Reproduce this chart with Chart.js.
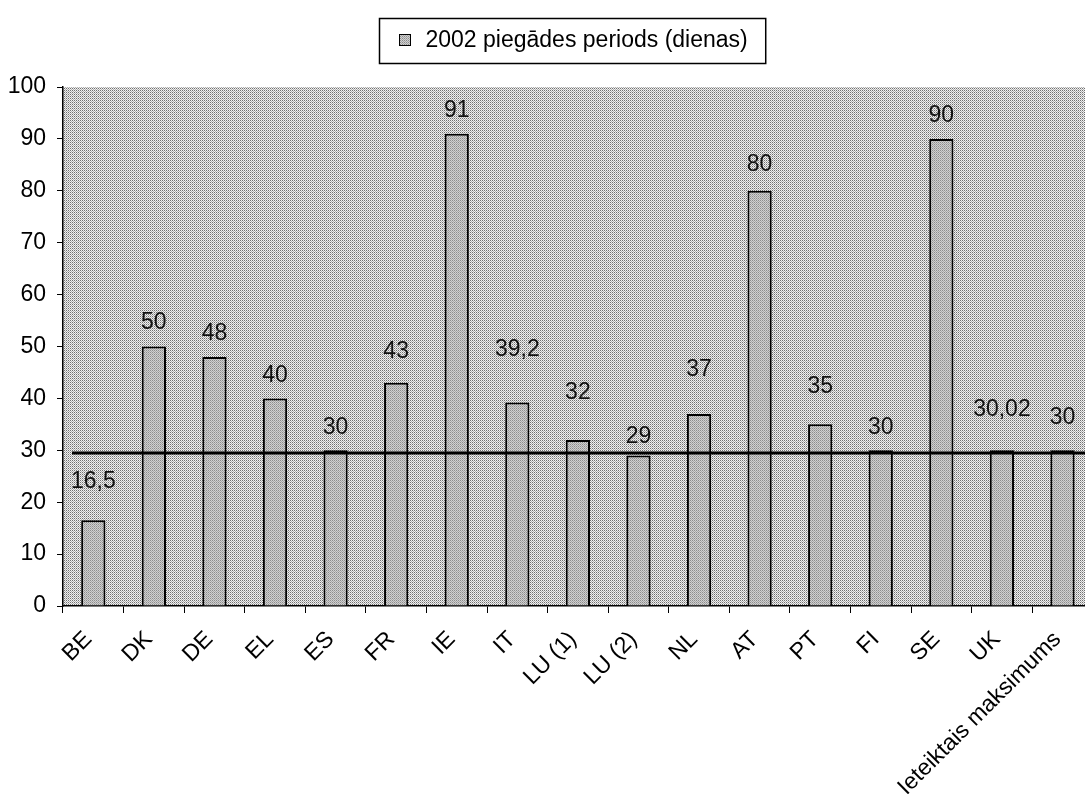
<!DOCTYPE html>
<html>
<head>
<meta charset="utf-8">
<script src="https://cdn.jsdelivr.net/npm/chart.js@4/dist/chart.umd.min.js"></script>
<style>
  html, body { margin: 0; padding: 0; background: #fff; overflow: hidden; }
  #wrap { width: 1085px; height: 794px; overflow: hidden; }
  #c { display: block; }
</style>
</head>
<body>
<!-- the plot runs a little past the visible right edge, so the canvas is wider than its frame -->
<div id="wrap"><canvas id="c" width="1095" height="794"></canvas></div>
<script>
// Delivery periods per country (days)
const categories = ['BE', 'DK', 'DE', 'EL', 'ES', 'FR', 'IE', 'IT', 'LU (1)', 'LU (2)', 'NL', 'AT', 'PT', 'FI', 'SE', 'UK', 'Ieteiktais maksimums'];
const periods2002 = [16.5, 50, 48, 40, 30, 43, 91, 39.2, 32, 29, 37, 80, 35, 30, 90, 30.02, 30];
const seriesLabel = '2002 piegādes periods (dienas)';
const referenceLevel = 29.5;
const yTicks = [0, 10, 20, 30, 40, 50, 60, 70, 80, 90, 100];

const VISIBLE_W = 1085;
const FONT = '"Liberation Sans", Arial, sans-serif';
const FONT_SIZE = 23;
// how far each value label sits above its bar top (px), nudged so labels clear the line
const labelLift = [39, 24, 23, 23, 23, 31, 23, 53, 47, 19, 44, 26, 38, 23, 23, 41, 33];

// Dithered fills (2x2 tiles)
function dither(p00, p10, p01, p11) {
  const c = document.createElement('canvas');
  c.width = 2; c.height = 2;
  const x = c.getContext('2d');
  x.fillStyle = p00; x.fillRect(0, 0, 1, 1);
  x.fillStyle = p10; x.fillRect(1, 0, 1, 1);
  x.fillStyle = p01; x.fillRect(0, 1, 1, 1);
  x.fillStyle = p11; x.fillRect(1, 1, 1, 1);
  return x.createPattern(c, 'repeat');
}
const plotFill = dither('#707070', '#f0f0f0', '#f0f0f0', '#b0b0b0');
const barFill = dither('#8c8c8c', '#d0d0d0', '#d0d0d0', '#a8a8a8');

function fmt(v) { return String(v).replace('.', ','); }

const decorations = {
  id: 'decorations',
  beforeDraw(chart) {
    const { ctx, chartArea: a } = chart;
    ctx.save();
    ctx.fillStyle = plotFill;
    ctx.fillRect(a.left, a.top, chart.width - a.left, a.bottom - a.top);
    ctx.restore();
  },
  afterDatasetsDraw(chart) {
    const { ctx, chartArea: a, scales } = chart;
    const y = scales.y.getPixelForValue(referenceLevel);
    ctx.save();
    ctx.strokeStyle = '#000';
    ctx.lineWidth = 3;
    ctx.beginPath();
    ctx.moveTo(a.left + 9, y);
    ctx.lineTo(chart.width, y);
    ctx.stroke();

    // value labels
    ctx.fillStyle = '#111';
    ctx.font = FONT_SIZE + 'px ' + FONT;
    ctx.textAlign = 'center';
    ctx.textBaseline = 'middle';
    const meta = chart.getDatasetMeta(0);
    meta.data.forEach((bar, i) => {
      ctx.fillText(fmt(periods2002[i]), bar.x, bar.y - labelLift[i]);
    });

    // legend box
    const tw = ctx.measureText(seriesLabel).width;
    const boxW = tw + 64;
    const cx = (a.left + VISIBLE_W) / 2;
    const bx = Math.round(cx - boxW / 2) - 1.5, by = 18.5, bh = 45;
    ctx.fillStyle = '#fff';
    ctx.fillRect(bx, by, boxW, bh);
    ctx.strokeStyle = '#000';
    ctx.lineWidth = 1.5;
    ctx.strokeRect(bx, by, boxW, bh);
    ctx.fillStyle = barFill;
    ctx.fillRect(bx + 20, by + 16, 11, 11);
    ctx.lineWidth = 1;
    ctx.strokeRect(bx + 20, by + 16, 11, 11);
    ctx.fillStyle = '#000';
    ctx.textAlign = 'left';
    ctx.fillText(seriesLabel, bx + 46, by + bh / 2);
    ctx.restore();
  }
};

new Chart(document.getElementById('c'), {
  type: 'bar',
  data: {
    labels: categories,
    datasets: [{
      label: seriesLabel,
      data: periods2002,
      backgroundColor: barFill,
      borderColor: '#000',
      borderWidth: 2,
      borderSkipped: 'bottom',
      categoryPercentage: 1,
      barPercentage: 0.4
    }]
  },
  options: {
    responsive: false,
    animation: false,
    devicePixelRatio: 1,
    layout: { padding: { top: 87, right: 0, left: 0, bottom: 0 } },
    plugins: {
      legend: { display: false },
      tooltip: { enabled: false }
    },
    scales: {
      x: {
        afterFit(scale) { scale.height = 188; },
        grid: { offset: true, drawOnChartArea: false, drawTicks: true, tickLength: 7, color: '#000', lineWidth: 1 },
        border: { color: '#000', width: 1.5 },
        ticks: { color: '#000', font: { family: FONT, size: FONT_SIZE }, minRotation: 45, maxRotation: 45, autoSkip: false, padding: 13, labelOffset: -5 }
      },
      y: {
        min: 0, max: 100,
        afterFit(scale) { scale.width = 63; },
        afterBuildTicks(scale) { scale.ticks = yTicks.map(v => ({ value: v })); },
        grid: { drawOnChartArea: false, drawTicks: true, tickLength: 6, color: '#000', lineWidth: 1 },
        border: { color: '#000', width: 1.5 },
        ticks: { color: '#000', font: { family: FONT, size: FONT_SIZE }, padding: 11 }
      }
    }
  },
  plugins: [decorations]
});
</script>
</body>
</html>
